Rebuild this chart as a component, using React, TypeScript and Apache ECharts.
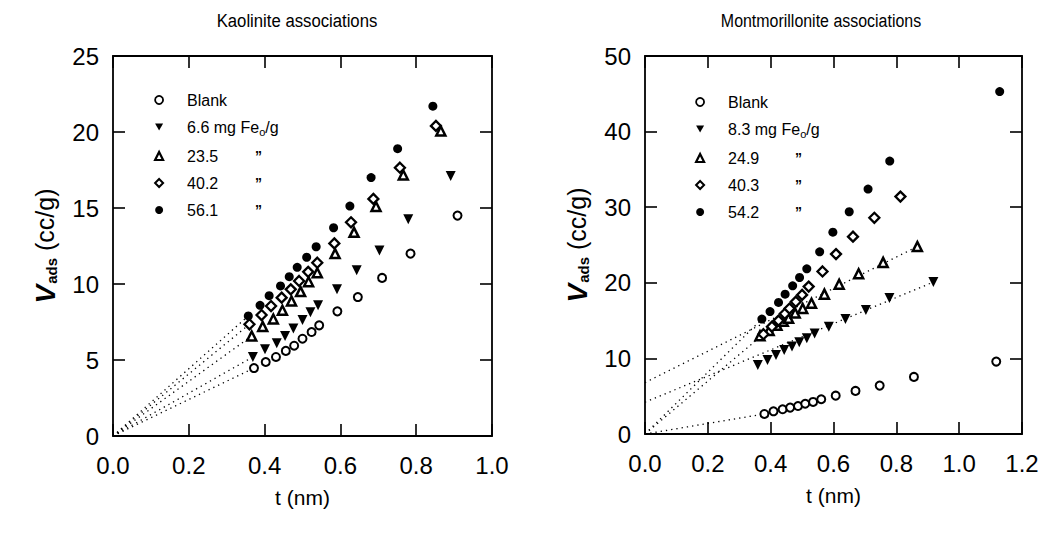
import React, { useEffect, useRef } from 'react';
import * as echarts from 'echarts';

// ---------- Kaolinite associations (t nm, V cc/g) ----------
const kaoBlank = [[0.372, 4.47], [0.403, 4.87], [0.43, 5.2], [0.456, 5.6], [0.478, 5.94], [0.5, 6.4], [0.524, 6.84], [0.544, 7.28], [0.592, 8.2], [0.646, 9.14], [0.71, 10.4], [0.785, 12.0], [0.909, 14.5]];
const kao66 = [[0.369, 5.2], [0.401, 5.7], [0.432, 6.1], [0.454, 6.58], [0.476, 7.08], [0.5, 7.63], [0.521, 8.14], [0.541, 8.6], [0.591, 9.65], [0.643, 10.9], [0.703, 12.2], [0.779, 14.26], [0.891, 17.1]];
const kao235 = [[0.366, 6.58], [0.395, 7.2], [0.423, 7.7], [0.447, 8.27], [0.471, 8.88], [0.495, 9.5], [0.516, 10.15], [0.539, 10.74], [0.586, 12.0], [0.636, 13.4], [0.694, 15.1], [0.766, 17.17], [0.865, 20.07]];
const kao402 = [[0.36, 7.35], [0.392, 7.96], [0.417, 8.55], [0.445, 9.1], [0.469, 9.65], [0.491, 10.2], [0.515, 10.8], [0.539, 11.4], [0.584, 12.67], [0.628, 14.06], [0.687, 15.6], [0.757, 17.65], [0.852, 20.4]];
const kao561 = [[0.357, 7.9], [0.388, 8.6], [0.412, 9.23], [0.442, 9.87], [0.465, 10.48], [0.486, 11.1], [0.511, 11.76], [0.536, 12.45], [0.582, 13.7], [0.625, 15.13], [0.681, 17.0], [0.751, 18.9], [0.844, 21.7]];

// ---------- Montmorillonite associations ----------
const monBlank = [[0.38, 2.65], [0.409, 3.0], [0.438, 3.27], [0.462, 3.49], [0.487, 3.7], [0.51, 4.0], [0.535, 4.24], [0.561, 4.6], [0.607, 5.07], [0.67, 5.7], [0.747, 6.4], [0.856, 7.55], [1.118, 9.58]];
const mon83 = [[0.359, 9.14], [0.39, 9.8], [0.417, 10.46], [0.443, 11.1], [0.468, 11.56], [0.491, 12.14], [0.515, 12.67], [0.54, 13.3], [0.585, 14.2], [0.638, 15.2], [0.703, 16.4], [0.778, 18.0], [0.918, 20.1]];
const mon249 = [[0.366, 13.0], [0.395, 13.7], [0.42, 14.4], [0.44, 14.9], [0.457, 15.3], [0.478, 16.0], [0.502, 16.6], [0.53, 17.3], [0.571, 18.5], [0.618, 19.8], [0.68, 21.2], [0.758, 22.7], [0.867, 24.8]];
const mon403 = [[0.377, 13.2], [0.404, 14.2], [0.425, 15.0], [0.445, 15.9], [0.46, 16.6], [0.48, 17.5], [0.5, 18.4], [0.521, 19.5], [0.565, 21.5], [0.608, 23.8], [0.662, 26.1], [0.73, 28.6], [0.813, 31.4]];
const mon542 = [[0.372, 15.2], [0.398, 16.2], [0.425, 17.4], [0.446, 18.5], [0.47, 19.6], [0.492, 20.7], [0.515, 21.85], [0.556, 24.1], [0.598, 26.7], [0.65, 29.4], [0.71, 32.4], [0.779, 36.1], [1.129, 45.3]];

// fitted lines (intercept start, end point)
const monFit83 = [[0, 4.2], [0.918, 20.1]];
const monFit249 = [[0, 6.8], [0.867, 24.8]];

// axis ranges / ticks
const kaoX = { min: 0, max: 1.0, interval: 0.2 };
const kaoY = { min: 0, max: 25, interval: 5 };
const monX = { min: 0, max: 1.2, interval: 0.2 };
const monY = { min: 0, max: 50, interval: 10 };

const kaoLegend = ['Blank', '6.6 mg Fe', '23.5', '40.2', '56.1'];
const monLegend = ['Blank', '8.3 mg Fe', '24.9', '40.3', '54.2'];

const FONT = "'Liberation Sans', Arial, Helvetica, sans-serif";

const DOWN = 'path://M0,0L10,0L5,9Z';
const styles = [
  { symbol: 'circle', symbolSize: 8, symbolRotate: 0, itemStyle: { color: '#fff', borderColor: '#000', borderWidth: 2, opacity: 1 } },
  { symbol: 'triangle', symbolSize: 10, symbolRotate: 180, itemStyle: { color: '#000', opacity: 1 } },
  { symbol: 'triangle', symbolSize: 9, symbolRotate: 0, itemStyle: { color: '#fff', borderColor: '#000', borderWidth: 2.5, opacity: 1 } },
  { symbol: 'diamond', symbolSize: 10, symbolRotate: 0, itemStyle: { color: '#fff', borderColor: '#000', borderWidth: 2.3, opacity: 1 } },
  { symbol: 'circle', symbolSize: 9, symbolRotate: 0, itemStyle: { color: '#000', opacity: 1 } },
];
const legendIcons = [
  { icon: 'circle', itemStyle: { color: '#fff', borderColor: '#000', borderWidth: 1.8 } },
  { icon: DOWN, itemStyle: { color: '#000', borderWidth: 0 } },
  { icon: 'triangle', itemStyle: { color: '#fff', borderColor: '#000', borderWidth: 2.2 } },
  { icon: 'diamond', itemStyle: { color: '#fff', borderColor: '#000', borderWidth: 2 } },
  { icon: 'circle', itemStyle: { color: '#000', borderWidth: 0 } },
];

function scatter(id: string, data: number[][], i: number, axis: number) {
  return {
    type: 'scatter', name: id, data, xAxisIndex: axis, yAxisIndex: axis,
    symbol: styles[i].symbol, symbolSize: styles[i].symbolSize, symbolRotate: styles[i].symbolRotate,
    itemStyle: styles[i].itemStyle, z: 5, silent: true,
  };
}
function dotted(data: number[][], axis: number) {
  return {
    type: 'line', data, xAxisIndex: axis, yAxisIndex: axis, symbol: 'none', showSymbol: false,
    lineStyle: { color: '#000', width: 1.3, type: [1.3, 4], opacity: 1 }, z: 2, silent: true,
  };
}

const axisLine = { show: true, onZero: false, lineStyle: { color: '#000', width: 1.8 } };
const axisTick = { show: true, inside: true, length: 12, lineStyle: { color: '#000', width: 1.6 } };
const lbl = { fontSize: 24, color: '#000', fontFamily: FONT };

function xAxes(grid: number, r: any) {
  return [
    {
      type: 'value', gridIndex: grid, position: 'bottom', ...r, axisLine, axisTick,
      axisLabel: { ...lbl, margin: 17, formatter: (v: number) => v.toFixed(1) },
      splitLine: { show: false },
      name: 't (nm)', nameLocation: 'middle', nameGap: 51,
      nameTextStyle: { fontSize: 21, color: '#000', fontFamily: FONT },
    },
    {
      type: 'value', gridIndex: grid, position: 'top', ...r, axisLine, axisTick,
      axisLabel: { show: false }, splitLine: { show: false },
    },
  ];
}
function yAxes(grid: number, r: any) {
  return [
    {
      type: 'value', gridIndex: grid, position: 'left', ...r, axisLine, axisTick,
      axisLabel: { ...lbl, margin: 14 }, splitLine: { show: false },
      name: '{v|V}{s|ads}{n| (cc/g)}', nameLocation: 'middle', nameGap: 54, nameRotate: 90,
      nameTextStyle: {
        color: '#000', fontFamily: FONT,
        rich: {
          v: { fontSize: 28, fontWeight: 'bold', fontStyle: 'italic', fontFamily: FONT, color: '#000' },
          s: { fontSize: 15, fontWeight: 'bold', fontFamily: FONT, color: '#000', padding: [13, 0, 0, 1] },
          n: { fontSize: 25, fontFamily: FONT, color: '#000' },
        },
      },
    },
    {
      type: 'value', gridIndex: grid, position: 'right', ...r, axisLine, axisTick,
      axisLabel: { show: false }, splitLine: { show: false },
    },
  ];
}

function legend(prefix: string, labels: string[], left: number, top: number, dittoW: number) {
  return {
    data: labels.map((_, i) => ({ name: prefix + i, icon: legendIcons[i].icon, itemStyle: legendIcons[i].itemStyle })),
    orient: 'vertical', left, top, itemWidth: 8, itemHeight: 8, itemGap: 11,
    selectedMode: false,
    formatter: (name: string) => {
      const i = Number(name.slice(prefix.length));
      const t = labels[i];
      if (i === 0) return '{p|}{t|' + t + '}';
      if (i === 1) return '{p|}{t|' + t + '}{s|o}{t|/g}';
      return '{p|}{a|' + t + '}{d|\u201D}';
    },
    textStyle: {
      color: '#000', fontFamily: FONT, fontSize: 16,
      rich: {
        p: { width: 19 },
        t: { fontSize: 16, fontFamily: FONT, color: '#000' },
        a: { fontSize: 16, fontFamily: FONT, color: '#000', width: dittoW },
        d: { fontSize: 14, fontFamily: FONT, color: '#000', fontWeight: 'bold' },
        s: { fontSize: 11, fontFamily: FONT, color: '#000', padding: [9, 0, 0, 0] },
      },
    },
  };
}

export default function App() {
  const ref = useRef<HTMLDivElement>(null);
  useEffect(() => {
    const chart = echarts.init(ref.current!, null, { renderer: 'svg' });
    const kaoSets = [kaoBlank, kao66, kao235, kao402, kao561];
    const monSets = [monBlank, mon83, mon249, mon403, mon542];
    const series: any[] = [];
    kaoSets.forEach((d) => series.push(dotted([[0, 0], d[0]], 0)));
    series.push(dotted([[0, 0], monBlank[0]], 2));
    series.push(dotted(monFit83, 2));
    series.push(dotted(monFit249, 2));
    series.push(dotted([[0, 0], mon403[0]], 2));
    series.push(dotted([[0, 0], mon542[0]], 2));
    kaoSets.forEach((d, i) => series.push(scatter('K' + i, d, i, 0)));
    monSets.forEach((d, i) => series.push(scatter('M' + i, d, i, 2)));

    chart.setOption({
      animation: false,
      backgroundColor: '#fff',
      textStyle: { fontFamily: FONT },
      grid: [
        { left: 113, top: 56, width: 379, height: 380 },
        { left: 645, top: 56, width: 377, height: 378 },
      ],
      xAxis: [...xAxes(0, kaoX), ...xAxes(1, monX)],
      yAxis: [...yAxes(0, kaoY), ...yAxes(1, monY)],
      legend: [legend('K', kaoLegend, 149, 87, 68), legend('M', monLegend, 690, 89, 67)],
      graphic: [
        { type: 'text', x: 297, y: 21, scaleX: 0.88, style: { text: 'Kaolinite associations', fontSize: 19, fontFamily: FONT, fill: '#000', textAlign: 'center', textVerticalAlign: 'middle' } },
        { type: 'text', x: 821, y: 21, scaleX: 0.84, style: { text: 'Montmorillonite associations', fontSize: 19, fontFamily: FONT, fill: '#000', textAlign: 'center', textVerticalAlign: 'middle' } },
      ],
      series,
    });
    return () => chart.dispose();
  }, []);
  return <div ref={ref} style={{ position: 'fixed', left: 0, top: 0, width: 1050, height: 535, background: '#fff' }} />;
}
